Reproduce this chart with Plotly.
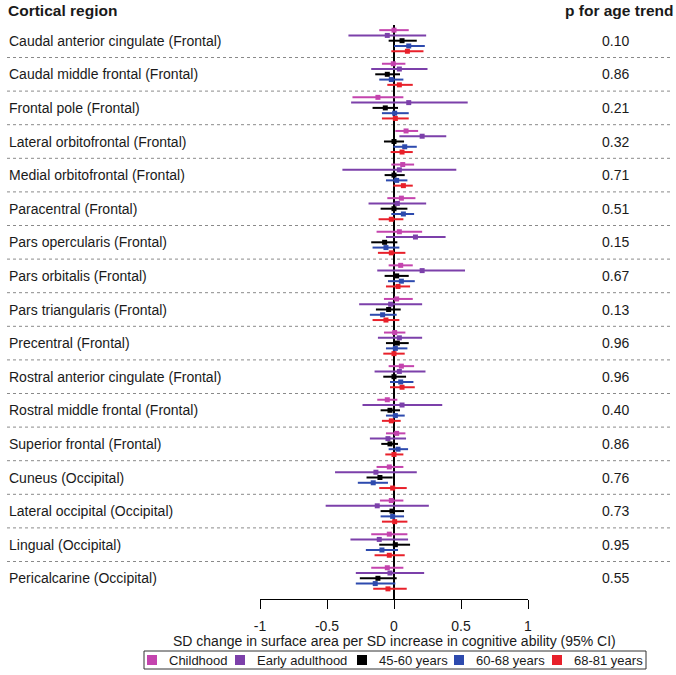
import plotly.graph_objects as go

regions = [
    "Caudal anterior cingulate (Frontal)", "Caudal middle frontal (Frontal)",
    "Frontal pole (Frontal)", "Lateral orbitofrontal (Frontal)",
    "Medial orbitofrontal (Frontal)", "Paracentral (Frontal)",
    "Pars opercularis (Frontal)", "Pars orbitalis (Frontal)",
    "Pars triangularis (Frontal)", "Precentral (Frontal)",
    "Rostral anterior cingulate (Frontal)", "Rostral middle frontal (Frontal)",
    "Superior frontal (Frontal)", "Cuneus (Occipital)",
    "Lateral occipital (Occipital)", "Lingual (Occipital)",
    "Pericalcarine (Occipital)",
]
p_trend = ["0.10", "0.86", "0.21", "0.32", "0.71", "0.51", "0.15", "0.67", "0.13",
           "0.96", "0.96", "0.40", "0.86", "0.76", "0.73", "0.95", "0.55"]

groups = ["Childhood", "Early adulthood", "45-60 years", "60-68 years", "68-81 years"]
colors = ["#C444AE", "#7C40AA", "#000000", "#2D4AAE", "#E8202A"]

child_est = [0.00, -0.005, -0.12, 0.09, 0.065, 0.055, 0.04, 0.05, 0.02, 0.005, 0.055, -0.05, 0.02, -0.035, -0.02, -0.035, -0.05]
child_lo = [-0.11, -0.09, -0.31, 0.01, -0.02, -0.05, -0.13, -0.04, -0.075, -0.075, -0.04, -0.125, -0.06, -0.13, -0.105, -0.17, -0.17]
child_hi = [0.11, 0.085, 0.07, 0.18, 0.15, 0.16, 0.21, 0.14, 0.14, 0.085, 0.15, 0.025, 0.085, 0.07, 0.07, 0.10, 0.07]

early_est = [-0.05, 0.04, 0.11, 0.21, 0.04, 0.025, 0.16, 0.21, -0.025, 0.04, 0.04, 0.06, -0.045, -0.135, -0.125, -0.11, -0.03]
early_lo = [-0.34, -0.17, -0.32, 0.04, -0.385, -0.19, -0.06, -0.125, -0.26, -0.12, -0.145, -0.235, -0.18, -0.44, -0.51, -0.325, -0.285]
early_hi = [0.24, 0.25, 0.55, 0.39, 0.465, 0.24, 0.385, 0.53, 0.21, 0.21, 0.235, 0.36, 0.09, 0.17, 0.26, 0.105, 0.225]

mid_est = [0.06, -0.05, -0.065, 0.0, 0.0, 0.0, -0.07, 0.02, -0.04, 0.025, 0.0, -0.03, -0.03, -0.105, -0.015, 0.01, -0.12]
mid_lo = [-0.04, -0.14, -0.16, -0.075, -0.07, -0.10, -0.17, -0.07, -0.135, -0.06, -0.08, -0.10, -0.095, -0.205, -0.10, -0.11, -0.255]
mid_hi = [0.17, 0.045, 0.03, 0.075, 0.08, 0.10, 0.025, 0.11, 0.05, 0.11, 0.09, 0.045, 0.03, -0.01, 0.075, 0.12, 0.02]

old1_est = [0.11, -0.02, 0.005, 0.08, 0.02, 0.07, -0.06, 0.055, -0.085, 0.01, 0.05, 0.01, 0.03, -0.155, -0.01, -0.09, -0.14]
old1_lo = [0.0, -0.11, -0.09, -0.005, -0.06, -0.02, -0.16, -0.045, -0.18, -0.06, -0.03, -0.06, -0.04, -0.27, -0.10, -0.21, -0.285]
old1_hi = [0.23, 0.07, 0.11, 0.17, 0.10, 0.15, 0.04, 0.155, 0.02, 0.10, 0.145, 0.08, 0.105, -0.045, 0.075, 0.03, 0.01]

old2_est = [0.10, 0.04, 0.01, 0.06, 0.07, -0.02, -0.02, 0.03, -0.06, 0.0, 0.06, -0.02, 0.0, -0.01, 0.005, -0.035, -0.045]
old2_lo = [-0.02, -0.05, -0.09, -0.025, -0.005, -0.115, -0.12, -0.06, -0.16, -0.08, -0.03, -0.09, -0.065, -0.11, -0.09, -0.145, -0.155]
old2_hi = [0.22, 0.14, 0.11, 0.14, 0.14, 0.07, 0.085, 0.12, 0.04, 0.08, 0.155, 0.05, 0.07, 0.095, 0.10, 0.08, 0.095]

tick_vals = [-1, -0.5, 0, 0.5, 1]
tick_text = ["-1", "-0.5", "0", "0.5", "1"]

series = [
    (child_est, child_lo, child_hi),
    (early_est, early_lo, early_hi),
    (mid_est, mid_lo, mid_hi),
    (old1_est, old1_lo, old1_hi),
    (old2_est, old2_lo, old2_hi),
]

# ---- layout geometry (pixels) ----
W, H = 676, 675
ML, MR, MT, MB = 260, 148, 25, 76
PW = W - ML - MR
PH = H - MT - MB
ROW0_PX, ROW_STEP = 40.7, 33.6
OFFSET = 0.157  # vertical offset between groups within a row (row units)

def px_x(px):
    return (px - ML) / PW

def px_y(py):
    return (H - MB - py) / PH

y_top = (MT - ROW0_PX) / ROW_STEP
y_bot = (H - MB - ROW0_PX) / ROW_STEP

FONT = "Liberation Sans, Arial, sans-serif"
TXT = "#1a1a1a"
FS = 14

fig = go.Figure()
n = len(regions)
for g, (name, col, (est, lo, hi)) in enumerate(zip(groups, colors, series)):
    ys = [i + (g - 2) * OFFSET for i in range(n)]
    fig.add_trace(go.Scatter(
        x=est, y=ys, mode="markers", name=name,
        marker=dict(symbol="square", size=5, color=col),
        error_x=dict(type="data", symmetric=False,
                     array=[h - e for h, e in zip(hi, est)],
                     arrayminus=[e - l for e, l in zip(est, lo)],
                     color=col, thickness=2, width=0),
        showlegend=False,
        hovertemplate=name + ": %{x:.2f}<extra></extra>",
    ))

shapes = []
# dashed separators
for i in range(n - 1):
    shapes.append(dict(type="line", xref="paper", yref="y",
                       x0=px_x(7), x1=px_x(673), y0=i + 0.5, y1=i + 0.5,
                       line=dict(color="#8a8a8a", width=1, dash="dot"), layer="below"))

annotations = []
for i, (r, p) in enumerate(zip(regions, p_trend)):
    annotations.append(dict(xref="paper", yref="y", x=px_x(7), y=i, text=r,
                            xanchor="left", yanchor="middle", showarrow=False,
                            font=dict(family=FONT, size=FS, color=TXT)))
    annotations.append(dict(xref="paper", yref="y", x=px_x(615), y=i, text=p,
                            xanchor="center", yanchor="middle", showarrow=False,
                            font=dict(family=FONT, size=FS, color=TXT)))

annotations.append(dict(xref="paper", yref="paper", x=px_x(6), y=px_y(10),
                        text="<b>Cortical region</b>", xanchor="left", yanchor="middle",
                        showarrow=False, font=dict(family=FONT, size=15.5, color=TXT)))
annotations.append(dict(xref="paper", yref="paper", x=px_x(619), y=px_y(10),
                        text="<b>p for age trend</b>", xanchor="center", yanchor="middle",
                        showarrow=False, font=dict(family=FONT, size=15.5, color=TXT)))
annotations.append(dict(xref="paper", yref="paper", x=0.5, y=px_y(641),
                        text="SD change in surface area per SD increase in cognitive ability (95% CI)",
                        xanchor="center", yanchor="middle", showarrow=False,
                        font=dict(family=FONT, size=FS, color=TXT)))

# legend box
shapes.append(dict(type="rect", xref="paper", yref="paper",
                   x0=px_x(144), x1=px_x(646), y0=px_y(669), y1=px_y(651),
                   line=dict(color="#333333", width=1), fillcolor="white"))
sq_centers = [152, 240, 362, 459, 557]
for cx, col, name in zip(sq_centers, colors, groups):
    shapes.append(dict(type="rect", xref="paper", yref="paper",
                       x0=px_x(cx - 5), x1=px_x(cx + 5), y0=px_y(665), y1=px_y(655),
                       line=dict(width=0), fillcolor=col))
    annotations.append(dict(xref="paper", yref="paper", x=px_x(cx + 15), y=px_y(660),
                            text=name, xanchor="left", yanchor="middle", showarrow=False,
                            font=dict(family=FONT, size=13, color=TXT)))

fig.update_layout(
    width=W, height=H,
    margin=dict(l=ML, r=MR, t=MT, b=MB, pad=0),
    paper_bgcolor="white", plot_bgcolor="white",
    showlegend=False,
    shapes=shapes, annotations=annotations,
    xaxis=dict(range=[-1, 1], tickvals=tick_vals, ticktext=tick_text,
               showgrid=False, zeroline=True, zerolinecolor="black", zerolinewidth=1.5,
               showline=True, linecolor="black", linewidth=1,
               ticks="outside", ticklen=9, tickwidth=1, tickcolor="black",
               ticklabelstandoff=5,
               tickfont=dict(family=FONT, size=FS, color=TXT), fixedrange=True),
    yaxis=dict(range=[y_bot, y_top], visible=False, showgrid=False, zeroline=False,
               fixedrange=True),
)

fig.write_html(
    "out.html",
    config={"displayModeBar": False},
    post_script="document.body.style.margin='0px';document.body.style.overflow='hidden';",
)
